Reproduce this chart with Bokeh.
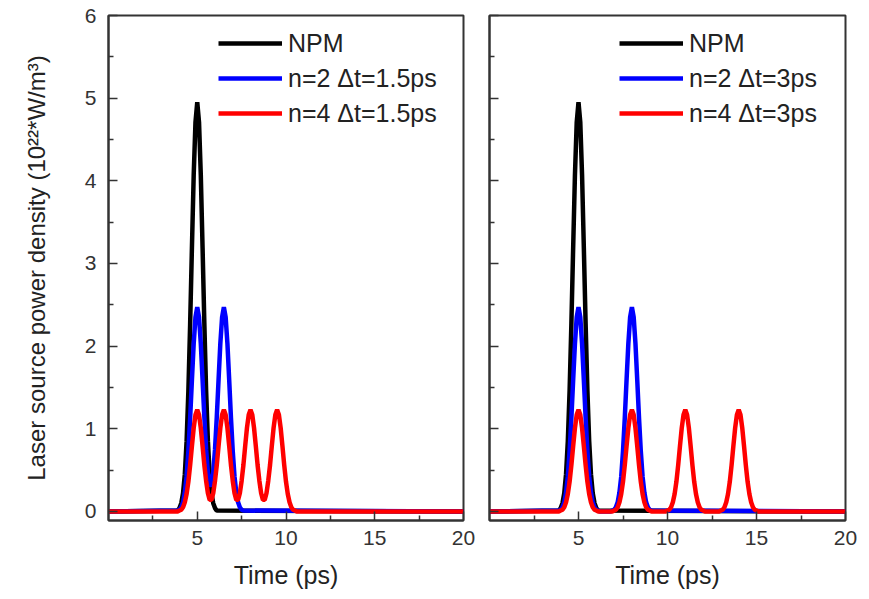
import numpy as np
from bokeh.plotting import figure
from bokeh.layouts import row
from bokeh.models import FixedTicker, Legend, LegendItem, Range1d
from bokeh.embed import file_html
from bokeh.resources import INLINE

# ---------------- data ----------------
step = 0.1            # sampling of the pulses (ps)
t_min, t_max = 0.0, 20.0
pulse_start = 3.9     # first sample of every pulse window (ps)

# NPM: single pulse centred at 5 ps, peak ~4.95
npm_vals = [0.01, 0.04, 0.10, 0.22, 0.45, 0.85, 1.46, 2.27, 3.19, 4.07, 4.71,
            4.95,
            4.71, 4.07, 3.19, 2.27, 1.46, 0.85, 0.45, 0.22, 0.10, 0.04, 0.01]

# single pulses of the split sources (peak ~2.47 for n=2, ~1.23 for n=4)
blue_pulse = [0.01, 0.02, 0.05, 0.11, 0.23, 0.42, 0.73, 1.13, 1.59, 2.03, 2.35,
              2.47,
              2.35, 2.03, 1.59, 1.13, 0.73, 0.42, 0.23, 0.11, 0.05, 0.02, 0.01]
red_pulse = [0.00, 0.01, 0.02, 0.05, 0.11, 0.21, 0.36, 0.56, 0.79, 1.01, 1.17,
             1.23,
             1.17, 1.01, 0.79, 0.56, 0.36, 0.21, 0.11, 0.05, 0.02, 0.01, 0.00]
gap_3ps = [0.0] * 7

# left panel: dt = 1.5 ps (overlapping pulses)
blue_left = [0.01, 0.02, 0.05, 0.11, 0.23, 0.42, 0.73, 1.13, 1.59, 2.03, 2.35,
             2.47, 2.35, 2.03, 1.59, 1.14, 0.75, 0.47, 0.32, 0.32, 0.47, 0.75,
             1.14, 1.59, 2.03, 2.35, 2.47, 2.35, 2.03, 1.59, 1.13, 0.73, 0.42,
             0.23, 0.11, 0.05, 0.02, 0.01]
red_left = [0.00, 0.01, 0.02, 0.05, 0.11, 0.21, 0.36, 0.56, 0.79, 1.01, 1.17,
            1.23, 1.17, 1.01, 0.79, 0.56, 0.37, 0.22, 0.14, 0.14, 0.22, 0.37,
            0.56, 0.79, 1.01, 1.17, 1.23, 1.17, 1.01, 0.79, 0.56, 0.37, 0.22,
            0.14, 0.14, 0.22, 0.37, 0.56, 0.79, 1.01, 1.17, 1.23, 1.17, 1.01,
            0.79, 0.56, 0.37, 0.22, 0.14, 0.14, 0.22, 0.37, 0.56, 0.79, 1.01,
            1.17, 1.23, 1.17, 1.01, 0.79, 0.56, 0.36, 0.21, 0.11, 0.05, 0.02,
            0.01, 0.00]

# right panel: dt = 3 ps (separated pulses)
blue_right = blue_pulse + gap_3ps + blue_pulse
red_right = red_pulse + gap_3ps + red_pulse + gap_3ps + red_pulse + gap_3ps + red_pulse

labels_left = ["NPM", "n=2 \u0394t=1.5ps", "n=4 \u0394t=1.5ps"]
labels_right = ["NPM", "n=2 \u0394t=3ps", "n=4 \u0394t=3ps"]
x_ticks = [5, 10, 15, 20]
x_minor = [2.5, 7.5, 12.5, 17.5]
y_ticks = [0, 1, 2, 3, 4, 5, 6]
y_minor = [0.5, 1.5, 2.5, 3.5, 4.5, 5.5]

FONT = "Liberation Sans"
AX = "#333333"


def series(vals):
    t = [t_min] + [round(pulse_start + i * step, 2) for i in range(len(vals))] + [t_max]
    v = [0.0] + list(vals) + [0.0]
    return t, v


def make_fig(blue_vals, red_vals, labels, legend_x, width, bl, br, show_y):
    p = figure(width=width, height=599, x_range=Range1d(0, 20), y_range=Range1d(-0.11, 6),
               output_backend="svg", toolbar_location=None,
               min_border_left=bl, min_border_right=br, min_border_top=15, min_border_bottom=79)
    p.background_fill_color = "white"
    p.border_fill_color = "white"
    p.outline_line_color = AX
    p.outline_line_width = 2
    p.xgrid.visible = False
    p.ygrid.visible = False

    r_k = p.line(*series(npm_vals), line_color="black", line_width=4.5)
    r_b = p.line(*series(blue_vals), line_color="#0000ff", line_width=4.5)
    r_r = p.line(*series(red_vals), line_color="#ff0000", line_width=4.5)

    for ax in (p.xaxis[0], p.yaxis[0]):
        ax.axis_line_color = AX
        ax.axis_line_width = 2
        ax.major_tick_line_color = AX
        ax.minor_tick_line_color = AX
        ax.major_tick_line_width = 1.5
        ax.minor_tick_line_width = 1.5
        ax.major_tick_in = 9
        ax.major_tick_out = 0
        ax.minor_tick_in = 5
        ax.minor_tick_out = 0
        ax.major_label_text_font = FONT
        ax.major_label_text_font_size = "21px"
        ax.major_label_text_color = "#333333"
        ax.axis_label_text_font = FONT
        ax.axis_label_text_font_size = "25px"
        ax.axis_label_text_font_style = "normal"
        ax.axis_label_text_color = "#222222"

    p.xaxis.ticker = FixedTicker(ticks=x_ticks, minor_ticks=x_minor)
    p.yaxis.ticker = FixedTicker(ticks=y_ticks, minor_ticks=y_minor)
    p.xaxis.axis_label = "Time (ps)"
    p.xaxis.major_label_standoff = 10
    p.xaxis.axis_label_standoff = 13
    if show_y:
        p.yaxis.axis_label = "Laser source power density (10\u00b2\u00b2*W/m\u00b3)"
        p.yaxis.axis_label_text_font_size = "24px"
        p.yaxis.major_label_standoff = 12
        p.yaxis.axis_label_standoff = 32
    else:
        p.yaxis.major_label_text_color = None
        p.yaxis.major_label_text_font_size = "1px"

    legend = Legend(items=[LegendItem(label=labels[0], renderers=[r_k]),
                           LegendItem(label=labels[1], renderers=[r_b]),
                           LegendItem(label=labels[2], renderers=[r_r])],
                    location=(legend_x, 392))
    legend.background_fill_alpha = 0
    legend.border_line_alpha = 0
    legend.label_text_font = FONT
    legend.label_text_font_size = "25px"
    legend.label_text_color = "#222222"
    legend.glyph_width = 64
    legend.glyph_height = 30
    legend.label_height = 30
    legend.spacing = 5
    legend.padding = 0
    legend.margin = 0
    legend.label_standoff = 6
    p.add_layout(legend)
    return p


p1 = make_fig(blue_left, red_left, labels_left, 110, 476, 108, 13, True)
p2 = make_fig(blue_right, red_right, labels_right, 130, 393, 13, 24, False)

layout = row(p1, p2)
open("out.html", "w").write(file_html(layout, INLINE))
